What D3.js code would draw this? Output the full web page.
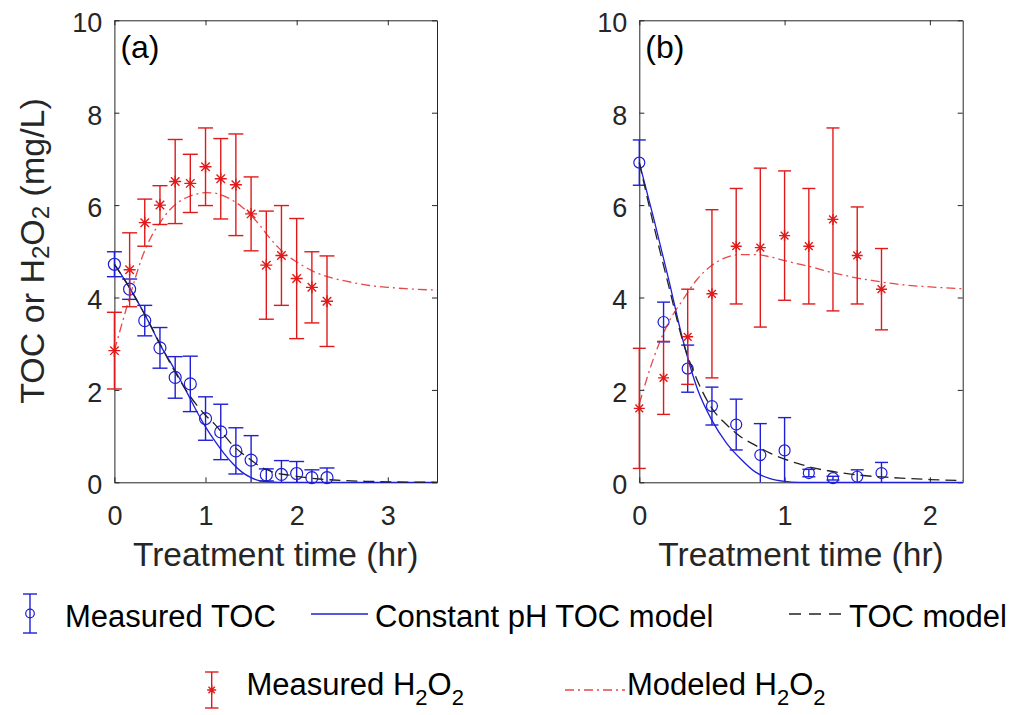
<!DOCTYPE html>
<html>
<head>
<meta charset="utf-8">
<script src="https://cdn.jsdelivr.net/npm/d3@7"></script>
<style>
  body { margin: 0; background: #fff; }
  svg { display: block; font-family: "Liberation Sans", Arial, sans-serif; }
</style>
</head>
<body>
<svg id="chart"></svg>
<script>
// panel (a) measurements
const timeA = [0, 0.167, 0.333, 0.5, 0.667, 0.833, 1.0, 1.167, 1.333, 1.5, 1.667, 1.833, 2.0, 2.167, 2.333];
const tocA = [4.72, 4.18, 3.50, 2.91, 2.27, 2.13, 1.38, 1.09, 0.68, 0.48, 0.16, 0.17, 0.19, 0.10, 0.10];
const tocErrA = [0.27, 0.22, 0.33, 0.44, 0.45, 0.60, 0.47, 0.60, 0.50, 0.53, 0.13, 0.30, 0.26, 0.17, 0.21];
const h2o2A = [2.85, 4.60, 5.62, 6.00, 6.51, 6.47, 6.83, 6.57, 6.44, 5.81, 4.70, 4.91, 4.41, 4.22, 3.92];
const h2o2ErrA = [0.83, 0.80, 0.51, 0.42, 0.91, 0.63, 0.84, 0.87, 1.10, 0.80, 1.17, 1.08, 1.30, 0.77, 0.98];

// panel (a) model curves
const modelTimeA = [0, 0.1, 0.2, 0.3, 0.4, 0.5, 0.6, 0.7, 0.8, 0.9, 1.0, 1.1, 1.2, 1.3, 1.4, 1.5, 1.6, 1.7, 1.8, 1.9, 2.0, 2.2, 2.4, 2.6, 2.8, 3.0, 3.2, 3.54];
const constPhTocA = [4.72, 4.42, 4.10, 3.75, 3.38, 2.98, 2.65, 2.30, 1.93, 1.55, 1.20, 0.90, 0.63, 0.40, 0.22, 0.10, 0.03, 0.01, 0, 0, 0, 0, 0, 0, 0, 0, 0, 0];
const tocModelA = [4.72, 4.42, 4.10, 3.75, 3.38, 3.00, 2.62, 2.27, 1.95, 1.68, 1.45, 1.26, 1.03, 0.80, 0.63, 0.48, 0.34, 0.25, 0.19, 0.16, 0.13, 0.08, 0.05, 0.03, 0.02, 0.01, 0.005, 0];
const h2o2ModelA = [2.85, 3.55, 4.23, 4.85, 5.30, 5.62, 5.88, 6.06, 6.17, 6.24, 6.27, 6.26, 6.20, 6.10, 5.96, 5.78, 5.55, 5.30, 5.08, 4.90, 4.77, 4.55, 4.42, 4.33, 4.26, 4.22, 4.19, 4.16];

// panel (b) measurements
const timeB = [0, 0.167, 0.333, 0.5, 0.667, 0.833, 1.0, 1.167, 1.333, 1.5, 1.667];
const tocB = [6.92, 3.47, 2.46, 1.65, 1.25, 0.59, 0.69, 0.20, 0.09, 0.12, 0.20];
const tocErrB = [0.49, 0.43, 0.51, 0.41, 0.55, 0.68, 0.71, 0.08, 0.04, 0.15, 0.23];
const h2o2B = [1.60, 2.26, 3.15, 4.08, 5.11, 5.08, 5.34, 5.11, 5.69, 4.91, 4.18];
const h2o2ErrB = [1.30, 0.79, 1.03, 1.82, 1.25, 1.72, 1.40, 1.25, 1.98, 1.05, 0.88];

// panel (b) model curves
const modelTimeB = [0, 0.1, 0.2, 0.3, 0.4, 0.5, 0.6, 0.7, 0.8, 0.9, 1.0, 1.1, 1.2, 1.3, 1.4, 1.5, 1.6, 1.7, 1.8, 2.0, 2.226];
const constPhTocB = [6.92, 5.70, 4.42, 3.08, 2.02, 1.34, 0.85, 0.50, 0.22, 0.08, 0.02, 0, 0, 0, 0, 0, 0, 0, 0, 0, 0];
const tocModelB = [6.92, 5.55, 4.28, 3.05, 2.20, 1.60, 1.25, 0.98, 0.80, 0.63, 0.50, 0.40, 0.31, 0.25, 0.20, 0.16, 0.13, 0.11, 0.09, 0.06, 0.04];
const h2o2ModelB = [1.70, 2.70, 3.45, 3.95, 4.40, 4.70, 4.87, 4.93, 4.93, 4.88, 4.80, 4.72, 4.65, 4.56, 4.49, 4.42, 4.37, 4.32, 4.28, 4.23, 4.19];

const yTicks = [0, 2, 4, 6, 8, 10];
const xTicksA = [0, 1, 2, 3];
const xTicksB = [0, 1, 2];

const BLUE = '#1f1fd6';
const RED = '#e01a1a';
const INK = '#262626';

const svg = d3.select('#chart').attr('width', 1016).attr('height', 715);

const plotTop = 20.3, plotBottom = 482.3;

function starPath(x, y, s) {
  const d = s * 0.707;
  return `M${x - s},${y}H${x + s}M${x},${y - s}V${y + s}` +
    `M${x - d},${y - d}L${x + d},${y + d}M${x - d},${y + d}L${x + d},${y - d}`;
}

function drawPanel(p) {
  const x = d3.scaleLinear().domain([0, p.xMax]).range([p.left, p.right]);
  const y = d3.scaleLinear().domain([0, 10]).range([plotBottom, plotTop]);
  const g = svg.append('g');

  // axes, ticks inward on all four sides
  g.append('g').attr('class', 'xaxis').attr('transform', `translate(0,${plotBottom})`)
    .call(d3.axisBottom(x).tickValues(p.xTicks).tickSize(-5).tickSizeOuter(0).tickPadding(24).tickFormat(d3.format('d')));
  g.append('g').attr('transform', `translate(0,${plotTop})`)
    .call(d3.axisTop(x).tickValues(p.xTicks).tickSize(-5).tickSizeOuter(0).tickFormat(''));
  g.append('g').attr('class', 'yaxis').attr('transform', `translate(${p.left},0)`)
    .call(d3.axisLeft(y).tickValues(yTicks).tickSize(-5).tickSizeOuter(0).tickPadding(12).tickFormat(d3.format('d')));
  g.append('g').attr('transform', `translate(${p.right},0)`)
    .call(d3.axisRight(y).tickValues(yTicks).tickSize(-5).tickSizeOuter(0).tickFormat(''));

  g.selectAll('.domain').attr('stroke', INK);
  g.selectAll('.tick line').attr('stroke', INK);
  g.selectAll('.tick text').attr('fill', INK).style('font-size', '27px')
    .style('font-family', '"Liberation Sans", Arial, sans-serif');
  g.selectAll('.yaxis .tick text').attr('dy', '0.42em');

  g.append('text')
    .attr('x', (p.left + p.right) / 2).attr('y', 566)
    .attr('text-anchor', 'middle').attr('fill', INK).style('font-size', '33.5px')
    .text('Treatment time (hr)');

  g.append('text')
    .attr('x', p.left + 6).attr('y', 58)
    .attr('fill', '#000').style('font-size', '32px')
    .text(p.tag);

  const line = d3.line().x(d => x(d[0])).y(d => y(d[1])).curve(d3.curveMonotoneX);

  // error bars helper
  const errBars = (times, vals, errs, color, cap) => {
    const eg = g.append('g').attr('stroke', color).attr('stroke-width', 1.4).attr('fill', 'none');
    times.forEach((t, i) => {
      const lo = vals[i] - errs[i], hi = vals[i] + errs[i];
      const cx = x(t);
      eg.append('line').attr('x1', cx).attr('x2', cx).attr('y1', y(Math.max(lo, 0))).attr('y2', y(hi));
      eg.append('line').attr('x1', cx - cap).attr('x2', cx + cap).attr('y1', y(hi)).attr('y2', y(hi));
      if (lo >= 0) eg.append('line').attr('x1', cx - cap).attr('x2', cx + cap).attr('y1', y(lo)).attr('y2', y(lo));
    });
  };

  // measured TOC
  errBars(p.time, p.toc, p.tocErr, BLUE, p.cap);
  g.append('g').selectAll('circle')
    .data(p.time.map((t, i) => [t, p.toc[i]]))
    .enter().append('circle')
    .attr('cx', d => x(d[0])).attr('cy', d => y(d[1])).attr('r', p.r)
    .attr('fill', 'none').attr('stroke', BLUE).attr('stroke-width', 1.2);

  // model TOC curves
  g.append('path').datum(p.modelTime.map((t, i) => [t, p.constPh[i]]))
    .attr('d', line).attr('fill', 'none').attr('stroke', BLUE).attr('stroke-width', 1.3);
  g.append('path').datum(p.modelTime.map((t, i) => [t, p.tocModel[i]]))
    .attr('d', line).attr('fill', 'none').attr('stroke', '#222').attr('stroke-width', 1.3)
    .attr('stroke-dasharray', '11,6');

  // measured H2O2
  errBars(p.time, p.h2o2, p.h2o2Err, RED, p.cap);
  g.append('g').selectAll('path')
    .data(p.time.map((t, i) => [t, p.h2o2[i]]))
    .enter().append('path')
    .attr('d', d => starPath(x(d[0]), y(d[1]), p.star))
    .attr('fill', 'none').attr('stroke', RED).attr('stroke-width', 1.4);

  // modelled H2O2
  g.append('path').datum(p.modelTime.map((t, i) => [t, p.h2o2Model[i]]))
    .attr('d', line).attr('fill', 'none').attr('stroke', RED).attr('stroke-opacity', 0.8)
    .attr('stroke-width', 1.3).attr('stroke-dasharray', '9,4,2,4');
}

drawPanel({
  tag: '(a)', left: 114.4, right: 437, xMax: 3.54, xTicks: xTicksA,
  time: timeA, toc: tocA, tocErr: tocErrA, h2o2: h2o2A, h2o2Err: h2o2ErrA,
  modelTime: modelTimeA, constPh: constPhTocA, tocModel: tocModelA, h2o2Model: h2o2ModelA,
  r: 6, cap: 7.5, star: 6
});

drawPanel({
  tag: '(b)', left: 639.3, right: 962.7, xMax: 2.226, xTicks: xTicksB,
  time: timeB, toc: tocB, tocErr: tocErrB, h2o2: h2o2B, h2o2Err: h2o2ErrB,
  modelTime: modelTimeB, constPh: constPhTocB, tocModel: tocModelB, h2o2Model: h2o2ModelB,
  r: 5.5, cap: 6.5, star: 5.5
});

// y axis title with subscripts
const yTitle = svg.append('text')
  .attr('transform', 'translate(44,251) rotate(-90)')
  .attr('text-anchor', 'middle').attr('fill', INK).style('font-size', '34px');
yTitle.append('tspan').text('TOC or H');
yTitle.append('tspan').attr('dy', 5).style('font-size', '24px').text('2');
yTitle.append('tspan').attr('dy', -5).text('O');
yTitle.append('tspan').attr('dy', 5).style('font-size', '24px').text('2');
yTitle.append('tspan').attr('dy', -5).text(' (mg/L)');

// legend
const leg = svg.append('g').style('font-size', '31px').attr('fill', '#000');

const legText = (x0, y0, main, sub) => {
  const t = leg.append('text').attr('x', x0).attr('y', y0);
  if (!sub) { t.text(main); return; }
  t.append('tspan').text(main);
  t.append('tspan').attr('dy', 10).style('font-size', '22px').text('2');
  t.append('tspan').attr('dy', -10).text('O');
  t.append('tspan').attr('dy', 10).style('font-size', '22px').text('2');
};

// Measured TOC
leg.append('line').attr('x1', 30).attr('x2', 30).attr('y1', 594).attr('y2', 633).attr('stroke', BLUE).attr('stroke-width', 1.4);
leg.append('line').attr('x1', 23).attr('x2', 37).attr('y1', 594).attr('y2', 594).attr('stroke', BLUE).attr('stroke-width', 1.4);
leg.append('line').attr('x1', 23).attr('x2', 37).attr('y1', 633).attr('y2', 633).attr('stroke', BLUE).attr('stroke-width', 1.4);
leg.append('circle').attr('cx', 30).attr('cy', 613.5).attr('r', 4.3).attr('fill', 'none').attr('stroke', BLUE).attr('stroke-width', 1.2);
legText(65, 627, 'Measured TOC');

// Constant pH TOC model
leg.append('line').attr('x1', 311).attr('x2', 368).attr('y1', 614).attr('y2', 614).attr('stroke', BLUE).attr('stroke-width', 1.3);
legText(375, 627, 'Constant pH TOC model');

// TOC model
leg.append('line').attr('x1', 789).attr('x2', 847).attr('y1', 614).attr('y2', 614).attr('stroke', '#222').attr('stroke-width', 1.3).attr('stroke-dasharray', '12,8');
legText(849, 627, 'TOC model');

// Measured H2O2
leg.append('line').attr('x1', 211.7).attr('x2', 211.7).attr('y1', 672).attr('y2', 708).attr('stroke', RED).attr('stroke-width', 1.4);
leg.append('line').attr('x1', 205).attr('x2', 218.5).attr('y1', 672).attr('y2', 672).attr('stroke', RED).attr('stroke-width', 1.4);
leg.append('line').attr('x1', 205).attr('x2', 218.5).attr('y1', 708).attr('y2', 708).attr('stroke', RED).attr('stroke-width', 1.4);
leg.append('path').attr('d', starPath(211.7, 690, 4.5)).attr('fill', 'none').attr('stroke', RED).attr('stroke-width', 1.4);
legText(246.5, 695, 'Measured H', true);

// Modeled H2O2
leg.append('line').attr('x1', 565).attr('x2', 625).attr('y1', 690).attr('y2', 690).attr('stroke', RED).attr('stroke-opacity', 0.8).attr('stroke-width', 1.3).attr('stroke-dasharray', '9,4,2,4');
legText(627, 695, 'Modeled H', true);
</script>
</body>
</html>
